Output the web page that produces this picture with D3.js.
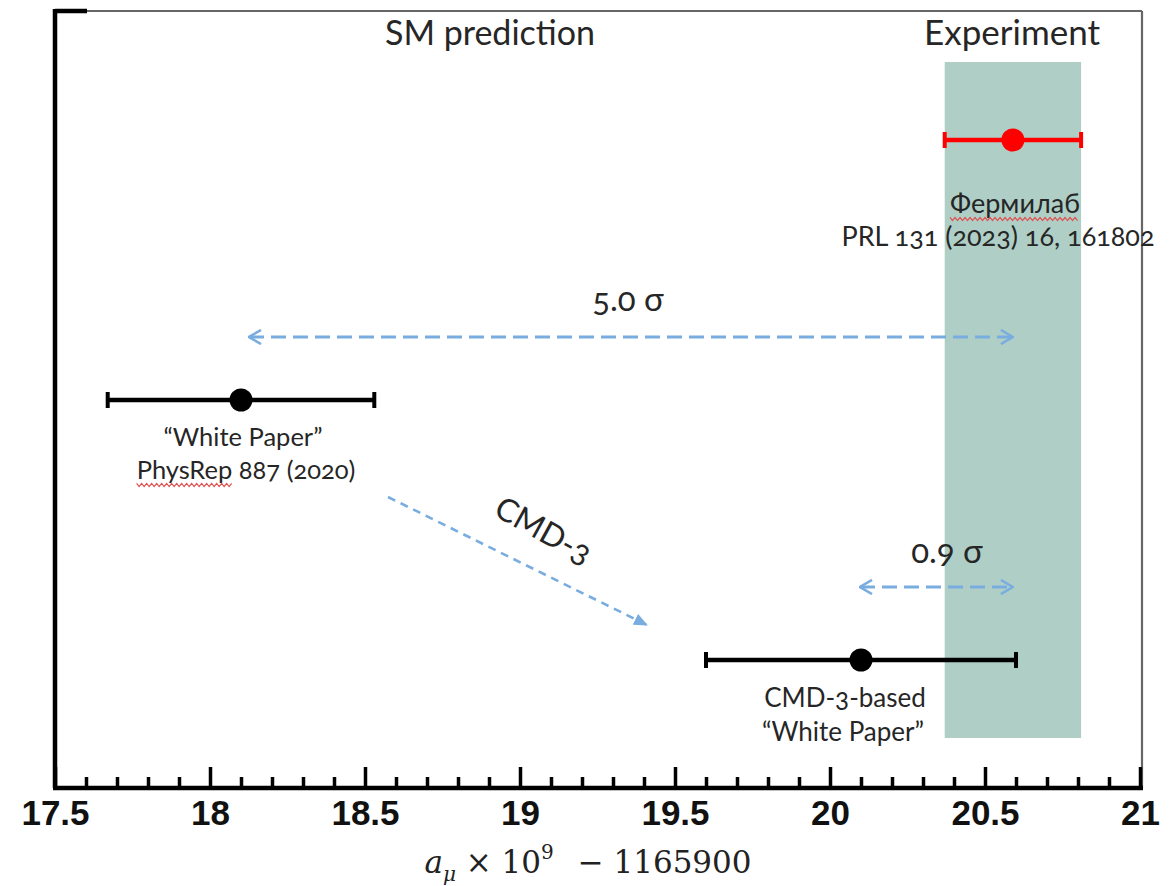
<!DOCTYPE html>
<html>
<head>
<meta charset="utf-8">
<script src="https://cdn.jsdelivr.net/npm/d3@7"></script>
<style>
  html, body { margin: 0; padding: 0; background: #fff; }
  svg { display: block; }
  .lbl { font-family: Lato, "Open Sans", sans-serif; fill: #262626; font-variant-numeric: oldstyle-nums; }
</style>
</head>
<body>
<svg id="chart" width="1174" height="886"></svg>
<script>
// Measurements of the muon anomalous magnetic moment, a_mu x 10^9 - 1165900
const rowKeys      = ["fnal", "wp2020", "cmd3wp"];
const centralValue = [20.59, 18.10, 20.10];
const uncertainty  = [0.22, 0.43, 0.50];
const markerColor  = ["#ff0000", "#000000", "#000000"];
const rowLabels    = [
  ["Фермилаб", "PRL 131 (2023) 16, 161802"],
  ["\u201CWhite Paper\u201D", "PhysRep 887 (2020)"],
  ["CMD-3-based", "\u201CWhite Paper\u201D"]
];
const majorTicks   = [17.5, 18, 18.5, 19, 19.5, 20, 20.5, 21];
const majorLabels  = ["17.5", "18", "18.5", "19", "19.5", "20", "20.5", "21"];
const minorTicks   = d3.range(176, 210).filter(v => v % 5 !== 0).map(v => v / 10);
const tensions     = [
  { from: "wp2020", to: "fnal", label: "5.0 \u03C3" },
  { from: "cmd3wp", to: "fnal", label: "0.9 \u03C3" }
];
const headers      = ["SM prediction", "Experiment"];

(function draw() {
const svg = d3.select("#chart");
const frameL = 55, frameR = 1142, frameT = 11, frameB = 788;

const x = d3.scaleLinear().domain([17.5, 21]).range([frameL, 1140]);
const y = d3.scalePoint().domain(rowKeys).range([140, 660]);

const rows = rowKeys.map((k, i) => ({
  key: k, v: centralValue[i], e: uncertainty[i], color: markerColor[i], text: rowLabels[i]
}));
const byKey = Object.fromEntries(rows.map(r => [r.key, r]));

// Experimental band
const exp = byKey.fnal;
svg.append("rect")
  .attr("x", x(exp.v - exp.e)).attr("width", x(exp.v + exp.e) - x(exp.v - exp.e))
  .attr("y", 62).attr("height", 738 - 62)
  .attr("fill", "#afcfc6");

// Frame: thin grey top/right, heavy black left
svg.append("line").attr("x1", frameL).attr("x2", frameR).attr("y1", frameT).attr("y2", frameT)
  .attr("stroke", "#666").attr("stroke-width", 2.2);
svg.append("line").attr("x1", frameR).attr("x2", frameR).attr("y1", frameT).attr("y2", frameB)
  .attr("stroke", "#666").attr("stroke-width", 2.2);
svg.append("line").attr("x1", frameL).attr("x2", frameL + 32).attr("y1", frameT).attr("y2", frameT)
  .attr("stroke", "#000").attr("stroke-width", 4.5);
svg.append("line").attr("x1", frameL).attr("x2", frameL).attr("y1", frameT - 2).attr("y2", frameB)
  .attr("stroke", "#000").attr("stroke-width", 4.5);

// Axis with major and minor ticks pointing inward
const gMinor = svg.append("g").attr("transform", `translate(0,${frameB})`)
  .call(d3.axisBottom(x).tickValues(minorTicks).tickSize(-11).tickFormat(""));
gMinor.select(".domain").remove();
gMinor.selectAll(".tick line").attr("stroke", "#000").attr("stroke-width", 3.5);

const gMajor = svg.append("g").attr("transform", `translate(0,${frameB})`)
  .call(d3.axisBottom(x).tickValues(majorTicks).tickSize(-21).tickPadding(12)
    .tickFormat((d, i) => majorLabels[i]));
gMajor.select(".domain").attr("stroke", "#000").attr("stroke-width", 4.5)
  .attr("d", `M${frameL - 2},0H${frameR + 1}`);
gMajor.selectAll(".tick line").attr("stroke", "#000").attr("stroke-width", 3.5);
gMajor.selectAll(".tick text")
  .attr("font-family", "'Liberation Sans', Arial, sans-serif")
  .attr("font-weight", "bold").attr("font-size", 35).attr("fill", "#111");

// Axis title
const title = svg.append("text")
  .attr("x", 588).attr("y", 873).attr("text-anchor", "middle")
  .attr("font-family", "'DejaVu Serif', 'Liberation Serif', serif")
  .attr("font-size", 31).attr("fill", "#222");
title.append("tspan").attr("font-style", "italic").text("a");
title.append("tspan").attr("font-style", "italic").attr("font-size", 20).attr("dy", 8).text("\u03BC");
title.append("tspan").attr("dy", -8).text(" \u00D7 10");
title.append("tspan").attr("font-size", 20).attr("dy", -14).text("9");
title.append("tspan").attr("dy", 14).attr("dx", 14).text(" \u2212 1165900");

// Column headers
svg.append("text").attr("class", "lbl").attr("x", 490).attr("y", 45)
  .attr("text-anchor", "middle").attr("font-size", 34).text(headers[0]);
svg.append("text").attr("class", "lbl").attr("x", 1012).attr("y", 45)
  .attr("text-anchor", "middle").attr("font-size", 35).text(headers[1]);

// Tension arrows
const blue = "#79ade0";
const defs = svg.append("defs");
defs.append("marker").attr("id", "chev").attr("viewBox", "0 0 14 16")
  .attr("refX", 13).attr("refY", 8).attr("markerWidth", 14).attr("markerHeight", 16)
  .attr("markerUnits", "userSpaceOnUse").attr("orient", "auto-start-reverse")
  .append("path").attr("d", "M1,1L13,8L1,15").attr("fill", "none")
  .attr("stroke", blue).attr("stroke-width", 2.6);
defs.append("marker").attr("id", "tri").attr("viewBox", "0 0 14 12")
  .attr("refX", 13).attr("refY", 6).attr("markerWidth", 14).attr("markerHeight", 12)
  .attr("markerUnits", "userSpaceOnUse").attr("orient", "auto")
  .append("path").attr("d", "M0,0L14,6L0,12Z").attr("fill", blue);

const tensionY = { wp2020: -63, cmd3wp: -73 };
const labelOffset = { wp2020: -26, cmd3wp: -24 };
tensions.forEach(t => {
  const a = byKey[t.from], b = byKey[t.to];
  const yy = y(a.key) + tensionY[a.key];
  const x1 = x(a.v) + (a.key === "wp2020" ? 8 : -1);
  svg.append("line")
    .attr("x1", x1).attr("x2", x(b.v)).attr("y1", yy).attr("y2", yy)
    .attr("stroke", blue).attr("stroke-width", 2.8).attr("stroke-dasharray", "15,7")
    .attr("marker-start", "url(#chev)").attr("marker-end", "url(#chev)");
  const lx = a.key === "wp2020" ? 628 : 947;
  svg.append("text").attr("class", "lbl").attr("x", lx).attr("y", yy + labelOffset[a.key])
    .attr("text-anchor", "middle").attr("font-size", 33).text(t.label);
});

// Shift of the SM prediction
const wp = byKey.wp2020, cmd = byKey.cmd3wp;
svg.append("line")
  .attr("x1", x(wp.v) + 147).attr("y1", y(wp.key) + 97)
  .attr("x2", x(cmd.v) - 214).attr("y2", y(cmd.key) - 35)
  .attr("stroke", blue).attr("stroke-width", 2.6).attr("stroke-dasharray", "8,6")
  .attr("marker-end", "url(#tri)");
svg.append("text").attr("class", "lbl")
  .attr("transform", `translate(538,${y(wp.key) + 140}) rotate(29)`)
  .attr("text-anchor", "middle").attr("font-size", 32).text("CMD-3");

// Error bars and central values
const g = svg.append("g");
rows.forEach(r => {
  const yy = y(r.key);
  g.append("line").attr("x1", x(r.v - r.e)).attr("x2", x(r.v + r.e))
    .attr("y1", yy).attr("y2", yy).attr("stroke", r.color).attr("stroke-width", 4.5);
  [r.v - r.e, r.v + r.e].forEach(v => {
    g.append("line").attr("x1", x(v)).attr("x2", x(v))
      .attr("y1", yy - 8).attr("y2", yy + 8).attr("stroke", r.color).attr("stroke-width", 4);
  });
  g.append("circle").attr("cx", x(r.v)).attr("cy", yy).attr("r", 11.5).attr("fill", r.color);
});

// Row captions
const capPos = {
  fnal:   { dx: [1015, 998], dy: [73, 106], fs: 27 },
  wp2020: { dx: [243, 246], dy: [46, 79], fs: 25.5 },
  cmd3wp: { dx: [845, 843], dy: [47, 81], fs: 26 }
};
const squiggle = (x0, x1, yy) => {
  const pts = [];
  for (let px = x0, k = 0; px <= x1; px += 2.5, k++) pts.push([px, yy + (k % 2 ? 1.6 : -1.6)]);
  return d3.line()(pts);
};
rows.forEach(r => {
  const c = capPos[r.key];
  r.text.forEach((s, i) => {
    const t = svg.append("text").attr("class", "lbl")
      .attr("x", c.dx[i]).attr("y", y(r.key) + c.dy[i])
      .attr("text-anchor", "middle").attr("font-size", c.fs).text(s);
    // proofing underline under the first word of some captions
    if ((r.key === "fnal" && i === 0) || (r.key === "wp2020" && i === 1)) {
      const node = t.node();
      const n = r.key === "fnal" ? s.length : 7;
      const ext = node.getExtentOfChar(0);
      const endExt = node.getExtentOfChar(n - 1);
      svg.append("path")
        .attr("d", squiggle(ext.x, endExt.x + endExt.width, y(r.key) + c.dy[i] + 6))
        .attr("fill", "none").attr("stroke", "#e05050").attr("stroke-width", 1.2);
    }
  });
});
})();
</script>
</body>
</html>
